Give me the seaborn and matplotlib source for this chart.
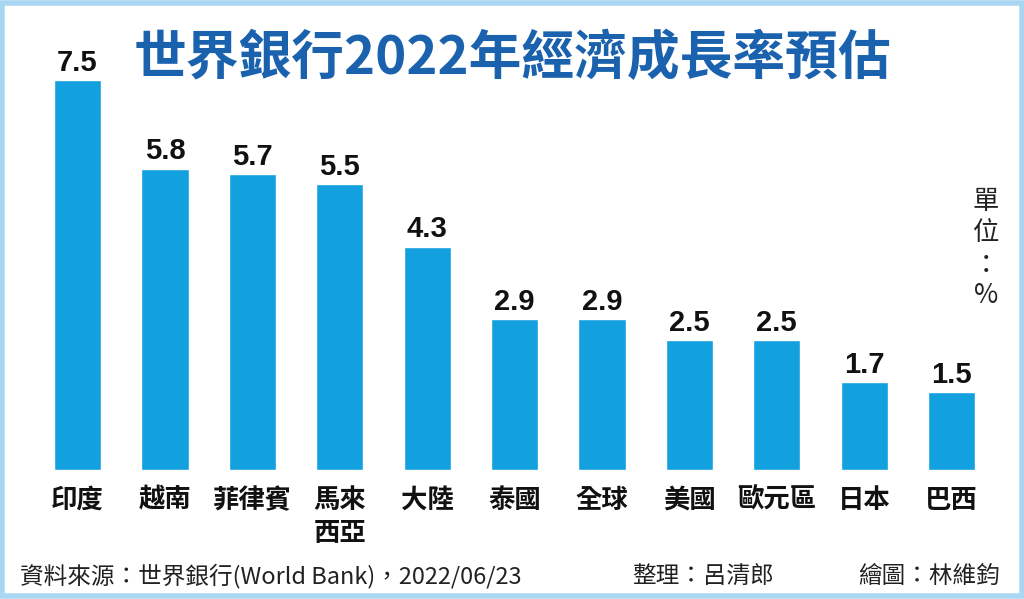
import matplotlib
matplotlib.use("Agg")
import matplotlib.pyplot as plt
import seaborn as sns
import pandas as pd
from matplotlib.patches import Rectangle

categories = ["印度", "越南", "菲律賓", "馬來\n西亞", "大陸", "泰國", "全球", "美國", "歐元區", "日本", "巴西"]
growth = [7.5, 5.8, 5.7, 5.5, 4.3, 2.9, 2.9, 2.5, 2.5, 1.7, 1.5]
value_labels = ["7.5", "5.8", "5.7", "5.5", "4.3", "2.9", "2.9", "2.5", "2.5", "1.7", "1.5"]

title = "世界銀行2022年經濟成長率預估"
unit_text = "單\n位\n：\n%"
source_text = "資料來源：世界銀行(World Bank)，2022/06/23"
editor_text = "整理：呂清郎"
artist_text = "繪圖：林維鈞"

sns.set_theme(style="white")
plt.rcParams['font.family'] = ['Noto Sans CJK TC', 'DejaVu Sans']

df = pd.DataFrame({"cat": categories, "val": growth})

fig = plt.figure(figsize=(10.24, 5.99), dpi=100)
fig.patch.set_facecolor("white")
ax = fig.add_axes([0.033, 0.215, 0.939, 0.738])

bar_color = "#12a1de"
sns.barplot(data=df, x="cat", y="val", color=bar_color, saturation=1, width=0.54, ax=ax)
ax.set_ylim(0, 8.5)
ax.set_xlim(-0.5, len(categories) - 0.5)
for s in ax.spines.values():
    s.set_visible(False)
ax.set_yticks([])
ax.set_xlabel("")
ax.set_ylabel("")
ax.set_xticks(range(len(categories)))
ax.set_xticklabels(categories, fontsize=19, color="#111111", fontweight="bold",
                   linespacing=1.3, va="top")
ax.tick_params(axis="x", length=0, pad=12)

for i, (v, lab) in enumerate(zip(growth, value_labels)):
    ax.text(i, v + 0.06, lab, ha="center", va="bottom", fontsize=21,
            fontweight="bold", family=["Liberation Sans", "DejaVu Sans"], color="#111111")

fig.text(0.5, 0.903, title, ha="center", va="center", fontsize=38,
         fontweight="bold", color="#1b62ae")

fig.text(0.963, 0.585, unit_text, ha="center", va="center", fontsize=19,
         color="#222222", linespacing=1.2)

fig.text(0.02, 0.038, source_text, ha="left", va="center", fontsize=17, color="#222222")
fig.text(0.617, 0.038, editor_text, ha="left", va="center", fontsize=17, color="#222222")
fig.text(0.838, 0.038, artist_text, ha="left", va="center", fontsize=17, color="#222222")

border = Rectangle((0.002, 0.005), 0.996, 0.99, transform=fig.transFigure,
                   fill=False, edgecolor="#a9d6f0", linewidth=4)
fig.patches.append(border)

fig.savefig("out.png", dpi=100, facecolor="white")
